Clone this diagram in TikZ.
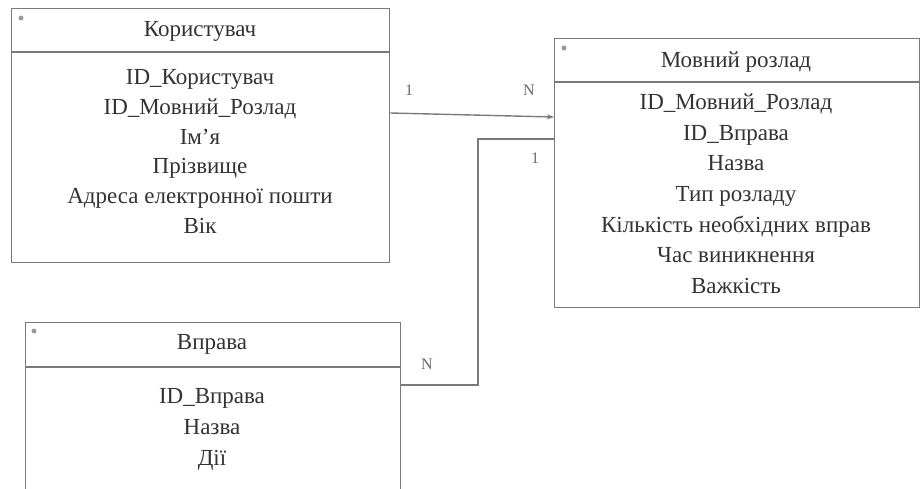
\documentclass[tikz,border=0pt]{standalone}
\usepackage{fontspec}
\setmainfont{Liberation Serif}
\usetikzlibrary{arrows.meta,calc}
\definecolor{linegray}{HTML}{7A7A7A}
\definecolor{textgray}{HTML}{333333}
\definecolor{labelgray}{HTML}{6A6A6A}
\definecolor{dotgray}{HTML}{9A9A9A}
\tikzset{
  entity/.style={draw=linegray, line width=1.4pt, anchor=north west, inner sep=0pt},
  divider/.style={draw=linegray, line width=1.4pt},
  field/.style={text=textgray, font=\fontsize{23}{27}\selectfont, inner sep=0pt, text height=15pt, text depth=5pt, anchor=center},
  card/.style={text=labelgray, font=\fontsize{16}{18}\selectfont, inner sep=0pt},
  conn/.style={draw=linegray, line width=1.4pt},
  icon/.style={circle, fill=dotgray, inner sep=0pt, minimum size=5pt}
}
\begin{document}
\begin{tikzpicture}[x=1pt,y=-1pt]
\useasboundingbox (0,0) rectangle (921,488);
\fill[white] (0,0) rectangle (921,488);
\clip (0,0) rectangle (921,488);

% Користувач
\node[entity, minimum width=378pt, minimum height=254pt] (user) at (11,8) {};
\draw[divider] ([yshift=-44pt]user.north west) -- ([yshift=-44pt]user.north east);
\node[icon] (usericon) at (21,18) {};
\node[field] (usert) at (200,31) {Користувач};
\node[field] (u1) at (200,79) {ID\_Користувач};
\node[field] (u2) at (200,109) {ID\_Мовний\_Розлад};
\node[field] (u3) at (200,139) {Ім'я};
\node[field] (u4) at (200,168) {Прізвище};
\node[field] (u5) at (200,198) {Адреса електронної пошти};
\node[field] (u6) at (200,228) {Вік};

% Мовний розлад
\node[entity, minimum width=365pt, minimum height=269pt] (dis) at (554,38) {};
\draw[divider] ([yshift=-44pt]dis.north west) -- ([yshift=-44pt]dis.north east);
\node[icon] (disicon) at (564,48) {};
\node[field] (dist) at (736,62) {Мовний розлад};
\node[field] (d1) at (736,104) {ID\_Мовний\_Розлад};
\node[field] (d2) at (736,135) {ID\_Вправа};
\node[field] (d3) at (736,165) {Назва};
\node[field] (d4) at (736,196) {Тип розладу};
\node[field] (d5) at (736,227) {Кількість необхідних вправ};
\node[field] (d6) at (736,257) {Час виникнення};
\node[field] (d7) at (736,288) {Важкість};

% Вправа
\node[entity, minimum width=375pt, minimum height=200pt] (ex) at (25,322) {};
\draw[divider] ([yshift=-45pt]ex.north west) -- ([yshift=-45pt]ex.north east);
\node[icon] (exicon) at (34,331) {};
\node[field] (ext) at (212,344) {Вправа};
\node[field] (e1) at (212,398) {ID\_Вправа};
\node[field] (e2) at (212,429) {Назва};
\node[field] (e3) at (212,460) {Дії};

% connectors
\draw[conn, -{Stealth[length=7pt,width=5pt]}] ([yshift=-105pt]user.north east) -- ([yshift=-79pt]dis.north west);
\coordinate (bend) at (478,385);
\draw[conn] ([yshift=-63pt]ex.north east) -- (bend) |- ([yshift=-101pt]dis.north west);

% cardinalities
\node[card] (c1) at (409,90) {1};
\node[card] (c2) at (529,90) {N};
\node[card] (c3) at (535,158) {1};
\node[card] (c4) at (427,364) {N};
\end{tikzpicture}
\end{document}
